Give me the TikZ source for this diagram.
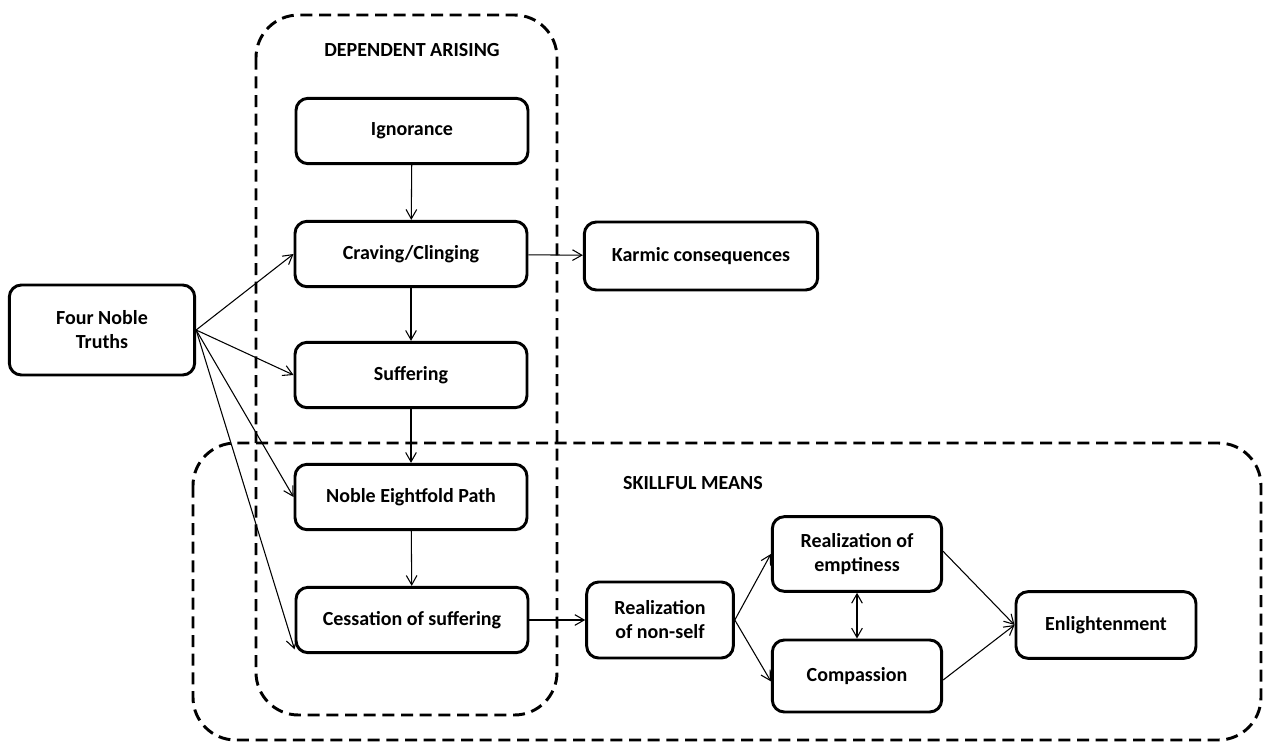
\documentclass[tikz,border=0pt]{standalone}
\usepackage{fontspec}
\setmainfont{Carlito}
\usepackage{tikz}
\usetikzlibrary{arrows.meta}

\begin{document}
\begin{tikzpicture}[x=0.75pt, y=-0.75pt,
    >={Straight Barb[length=7pt,width=8pt]},
    box/.style={draw, line width=2.2pt, rounded corners=9pt, align=center,
        font=\fontsize{15}{18}\selectfont\bfseries, inner sep=2pt},
    stage/.style={box, minimum width=174pt, minimum height=49pt},
    region/.style={line width=2.2pt, dash pattern=on 9pt off 5pt, rounded corners=32pt},
    arr/.style={->, line width=0.8pt},
    lbl/.style={font=\fontsize{15}{18}\selectfont\bfseries}]
  \useasboundingbox (0,0) rectangle (1264,743);

  % dashed groups
  \draw[region] (256,15) rectangle (557,715);
  \draw[region] (193,443) rectangle (1261,740);
  \node[lbl] (dalbl) at (412,50) {DEPENDENT ARISING};
  \node[lbl] (smlbl) at (693,483) {SKILLFUL MEANS};

  % boxes
  \node[box, minimum width=139pt, minimum height=67.5pt] (fnt) at (102,330) {Four Noble\\Truths};
  \node[stage] (ign)  at (412,131) {Ignorance};
  \node[stage] (crav) at (411,254) {Craving/Clinging};
  \node[stage] (suff) at (411,375) {Suffering};
  \node[stage] (path) at (411,497) {Noble Eightfold Path};
  \node[stage] (cess) at (412,620) {Cessation of suffering};
  \node[box, minimum width=175pt, minimum height=51pt] (karm) at (701,256) {Karmic consequences};
  \node[box, minimum width=110pt, minimum height=57pt] (nons) at (660,620) {Realization\\of non-self};
  \node[box, minimum width=127pt, minimum height=56pt] (empt) at (857,554) {Realization of\\emptiness};
  \node[box, minimum width=127pt, minimum height=54pt] (comp) at (857,676) {Compassion};
  \node[box, minimum width=135pt, minimum height=50pt] (enl)  at (1106,625) {Enlightenment};

  % connectors
  \draw[arr] (fnt.east) -- (crav.west);
  \draw[arr] (fnt.east) -- (suff.west);
  \draw[arr] (fnt.east) -- (path.west);
  \draw[arr] (fnt.east) -- ([yshift=-22pt]cess.west);
  \draw[arr] (ign) -- (crav);
  \draw[arr] (crav) -- (suff);
  \draw[arr] (suff) -- (path);
  \draw[arr] (path) -- (cess);
  \draw[arr] (crav) -- (karm);
  \draw[arr] (cess) -- (nons);
  \draw[arr] (nons.east) -- (empt.west);
  \draw[arr] (nons.east) -- ([yshift=-4pt]comp.west);
  \draw[arr, <->] (empt) -- (comp);
  \draw[arr] ([yshift=2pt]empt.east) -- (enl.west);
  \draw[arr] ([yshift=-3pt]comp.east) -- (enl.west);
\end{tikzpicture}
\end{document}
